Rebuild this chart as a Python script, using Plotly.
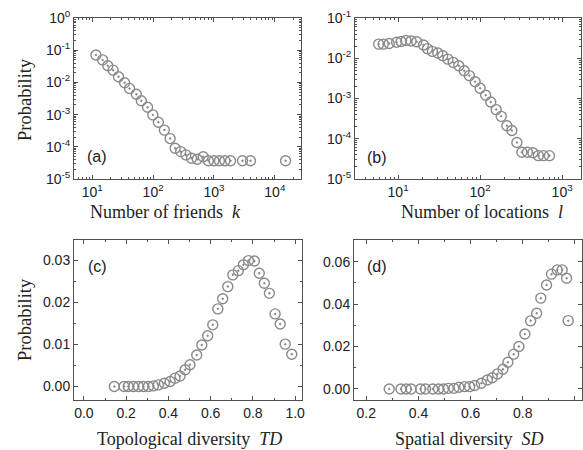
import plotly.graph_objects as go

# ---------------- data ----------------
friends_k = [11.5, 14.8, 18, 22, 27, 34, 41, 53, 64, 81, 99, 122, 153, 190, 230, 284,
             345, 428, 532, 665, 810, 1000, 1230, 1510, 1870, 2940, 3980, 15000]
friends_p = [0.071, 0.050, 0.033, 0.024, 0.015, 0.0098, 0.0065, 0.0043, 0.0027, 0.0017,
             0.00098, 0.00058, 0.00033, 0.00018, 9.0e-5, 7.1e-5, 5.6e-5, 4.4e-5, 4.1e-5,
             4.9e-5, 3.7e-5, 3.7e-5, 3.7e-5, 3.7e-5, 3.7e-5, 3.7e-5, 3.7e-5, 3.7e-5]

loc_l = [5.8, 6.6, 7.8, 9.6, 10.9, 12.5, 14.4, 16.9, 20.4, 22.8, 26.2, 30.5, 35, 40.5, 47,
         55, 64, 74, 87, 100, 117, 135, 157, 181, 212, 244, 281, 323, 378, 440, 514, 592, 700]
loc_p = [0.0224, 0.0224, 0.0233, 0.025, 0.026, 0.0277, 0.0268, 0.0258, 0.0214, 0.0173,
         0.0148, 0.0135, 0.0115, 0.0095, 0.0079, 0.0065, 0.0049, 0.0037, 0.0026, 0.0018,
         0.0012, 0.00082, 0.00053, 0.00036, 0.00021, 0.00016, 8.1e-5, 4.6e-5, 4.6e-5,
         4.5e-5, 3.8e-5, 3.8e-5, 3.8e-5]

td = [0.144, 0.19, 0.21, 0.234, 0.258, 0.281, 0.305, 0.329, 0.352, 0.381, 0.408, 0.431,
      0.455, 0.479, 0.502, 0.534, 0.558, 0.586, 0.61, 0.634, 0.657, 0.681, 0.705, 0.731,
      0.755, 0.779, 0.807, 0.83, 0.854, 0.878, 0.905, 0.929, 0.953, 0.984]
td_p = [0, 0, 0, 0, 0, 0, 0, 0.00016, 0.0004, 0.0008, 0.0012, 0.002, 0.0025, 0.004,
        0.0052, 0.0075, 0.0099, 0.0121, 0.0147, 0.0185, 0.0209, 0.0238, 0.0266, 0.0276,
        0.029, 0.030, 0.0299, 0.027, 0.0246, 0.0222, 0.0173, 0.0149, 0.0101, 0.0077]

sd = [0.288, 0.333, 0.353, 0.372, 0.408, 0.427, 0.455, 0.477, 0.496, 0.515, 0.536, 0.555,
      0.577, 0.596, 0.615, 0.641, 0.664, 0.683, 0.703, 0.724, 0.743, 0.765, 0.785, 0.808,
      0.83, 0.853, 0.869, 0.891, 0.91, 0.932, 0.951, 0.968, 0.974]
sd_p = [0, 0, 0, 0, 0, 0, 0, 0, 0, 0.0003, 0.0003, 0.0008, 0.0011, 0.0011, 0.0016, 0.0027,
        0.0042, 0.0053, 0.0071, 0.0093, 0.0126, 0.0164, 0.020, 0.0259, 0.0321, 0.0357,
        0.0428, 0.049, 0.0541, 0.0561, 0.0561, 0.0522, 0.0322]

# tick labels
a_xticks = [10, 100, 1000, 10000]
a_xtext = ["10<sup>1</sup>", "10<sup>2</sup>", "10<sup>3</sup>", "10<sup>4</sup>"]
a_yticks = [1e-5, 1e-4, 1e-3, 1e-2, 1e-1, 1]
a_ytext = ["10<sup>-5</sup>", "10<sup>-4</sup>", "10<sup>-3</sup>", "10<sup>-2</sup>",
           "10<sup>-1</sup>", "10<sup>0</sup>"]
b_xticks = [10, 100, 1000]
b_xtext = ["10<sup>1</sup>", "10<sup>2</sup>", "10<sup>3</sup>"]
b_yticks = [1e-5, 1e-4, 1e-3, 1e-2, 1e-1]
b_ytext = ["10<sup>-5</sup>", "10<sup>-4</sup>", "10<sup>-3</sup>", "10<sup>-2</sup>",
           "10<sup>-1</sup>"]

x_titles = ["Number of friends  <i>k</i>", "Number of locations  <i>l</i>",
            "Topological diversity  <i>TD</i>", "Spatial diversity  <i>SD</i>"]
panel_labels = ["(a)", "(b)", "(c)", "(d)"]
y_title = "Probability"

# ---------------- layout helpers ----------------
W, H = 583, 450
SANS = "Liberation Sans, Arial, sans-serif"
SERIF = "Liberation Serif, Times New Roman, serif"
AXC = "#505050"
MK = "#8a8a8a"


def dom_x(a, b):
    return [a / W, b / W]


def dom_y(top, bottom):
    return [1 - bottom / H, 1 - top / H]


def log_minor(lo, hi):
    vals = []
    for e in range(lo, hi):
        for m in range(2, 10):
            vals.append(m * 10.0 ** e)
    return vals


def axis_common(**kw):
    d = dict(showline=True, linecolor=AXC, linewidth=1, mirror="allticks",
             ticks="inside", ticklen=4, tickwidth=1, tickcolor=AXC,
             showgrid=False, zeroline=False, automargin=False,
             tickfont=dict(family=SANS, size=14, color="#222"))
    d.update(kw)
    return d


fig = go.Figure()
marker = dict(symbol="circle-open-dot", size=10, color=MK, line=dict(width=1.4, color=MK))

fig.add_trace(go.Scatter(x=friends_k, y=friends_p, mode="markers", marker=marker,
                         xaxis="x", yaxis="y", showlegend=False))
fig.add_trace(go.Scatter(x=loc_l, y=loc_p, mode="markers", marker=marker,
                         xaxis="x2", yaxis="y2", showlegend=False))
fig.add_trace(go.Scatter(x=td, y=td_p, mode="markers", marker=marker,
                         xaxis="x3", yaxis="y3", showlegend=False))
fig.add_trace(go.Scatter(x=sd, y=sd_p, mode="markers", marker=marker,
                         xaxis="x4", yaxis="y4", showlegend=False))

fig.update_layout(
    width=W, height=H, margin=dict(l=0, r=0, t=0, b=0),
    paper_bgcolor="white", plot_bgcolor="white",
    xaxis=axis_common(type="log", domain=dom_x(74, 301), anchor="y", range=[0.70, 4.43],
                      tickmode="array", tickvals=a_xticks, ticktext=a_xtext,
                      minor=dict(ticks="inside", ticklen=2, tickcolor=AXC,
                                 tickmode="array", tickvals=log_minor(0, 5))),
    yaxis=axis_common(type="log", domain=dom_y(18, 179), anchor="x", range=[-5, 0],
                      tickmode="array", tickvals=a_yticks, ticktext=a_ytext,
                      minor=dict(ticks="inside", ticklen=2, tickcolor=AXC,
                                 tickmode="array", tickvals=log_minor(-5, 0))),
    xaxis2=axis_common(type="log", domain=dom_x(355, 581), anchor="y2", range=[0.475, 3.23],
                       tickmode="array", tickvals=b_xticks, ticktext=b_xtext,
                       minor=dict(ticks="inside", ticklen=2, tickcolor=AXC,
                                  tickmode="array", tickvals=log_minor(0, 4))),
    yaxis2=axis_common(type="log", domain=dom_y(18, 179), anchor="x2", range=[-5, -1],
                       tickmode="array", tickvals=b_yticks, ticktext=b_ytext,
                       minor=dict(ticks="inside", ticklen=2, tickcolor=AXC,
                                  tickmode="array", tickvals=log_minor(-5, -1))),
    xaxis3=axis_common(domain=dom_x(74, 301.5), anchor="y3", range=[-0.047, 1.03],
                       dtick=0.2, tick0=0, tickformat=".1f",
                       minor=dict(ticks="inside", ticklen=2, tickcolor=AXC, dtick=0.1)),
    yaxis3=axis_common(domain=dom_y(240, 400), anchor="x3", range=[-0.0032, 0.0349],
                       dtick=0.01, tick0=0, tickformat=".2f",
                       minor=dict(ticks="inside", ticklen=2, tickcolor=AXC, dtick=0.005)),
    xaxis4=axis_common(domain=dom_x(354, 581.5), anchor="y4", range=[0.153, 1.025],
                       dtick=0.2, tick0=0, tickformat=".1f",
                       minor=dict(ticks="inside", ticklen=2, tickcolor=AXC, dtick=0.01 * 10)),
    yaxis4=axis_common(domain=dom_y(240, 400), anchor="x4", range=[-0.0052, 0.0702],
                       dtick=0.02, tick0=0, tickformat=".2f",
                       minor=dict(ticks="inside", ticklen=2, tickcolor=AXC, dtick=0.01)),
)

ann = []
# x titles
for txt, cx, cy in zip(x_titles, [165, 482, 189, 469], [212, 212, 439, 439]):
    ann.append(dict(text=txt, x=cx / W, y=1 - cy / H, xref="paper", yref="paper",
                    showarrow=False, xanchor="center", yanchor="middle",
                    font=dict(family=SERIF, size=18, color="#222")))
# y titles
for cy in [100, 320]:
    ann.append(dict(text=y_title, x=25 / W, y=1 - cy / H, xref="paper", yref="paper",
                    showarrow=False, textangle=-90, xanchor="center", yanchor="middle",
                    font=dict(family=SERIF, size=18.5, color="#222")))
# panel labels
for txt, cx, cy in zip(panel_labels, [97, 377, 97, 377], [156, 157, 266, 266]):
    ann.append(dict(text=txt, x=cx / W, y=1 - cy / H, xref="paper", yref="paper",
                    showarrow=False, xanchor="center", yanchor="middle",
                    font=dict(family=SANS, size=16, color="#222")))
fig.update_layout(annotations=ann)

fig.write_html("out.html", config={"displayModeBar": False},
               post_script="document.body.style.margin='0';document.body.style.padding='0';")
